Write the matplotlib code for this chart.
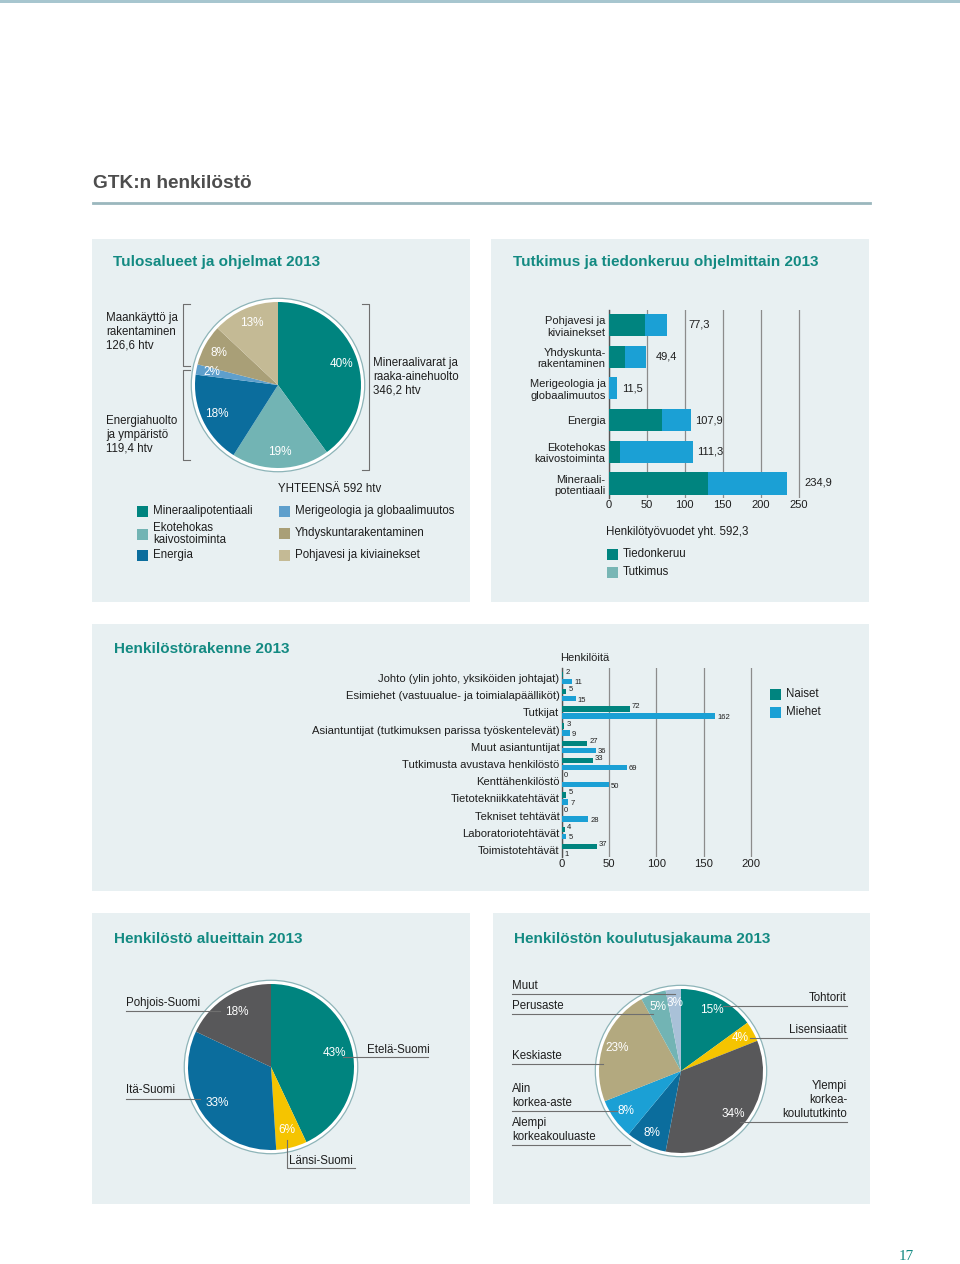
import matplotlib.pyplot as plt
from matplotlib.patches import Rectangle, Circle

plt.rcParams['font.family'] = ['Liberation Sans', 'DejaVu Sans']

W, H = 960, 1264

# Tulosalueet ja ohjelmat 2013 (% of htv)
prog_names = ['Mineraalipotentiaali', 'Ekotehokas\nkaivostoiminta', 'Energia',
              'Merigeologia ja globaalimuutos', 'Yhdyskuntarakentaminen',
              'Pohjavesi ja kiviainekset']
prog_pct = [40, 19, 18, 2, 8, 13]
prog_colors = ['#00847f', '#72b4b4', '#0b6d9d', '#5e9fcc', '#a99f77', '#c4ba95']

# Tutkimus ja tiedonkeruu ohjelmittain 2013 (htv)
bar_names = ['Pohjavesi ja\nkiviainekset', 'Yhdyskunta-\nrakentaminen',
             'Merigeologia ja\nglobaalimuutos', 'Energia',
             'Ekotehokas\nkaivostoiminta', 'Mineraali-\npotentiaali']
tiedonkeruu = [48.5, 21.0, 0.0, 70.5, 14.5, 131.0]
tutkimus = [28.8, 28.4, 11.5, 37.4, 96.8, 103.9]
bar_ticks = [0, 50, 100, 150, 200, 250]

# Henkilöstörakenne 2013
roles = ['Johto (ylin johto, yksiköiden johtajat)',
         'Esimiehet (vastuualue- ja toimialapäälliköt)',
         'Tutkijat',
         'Asiantuntijat (tutkimuksen parissa työskentelevät)',
         'Muut asiantuntijat',
         'Tutkimusta avustava henkilöstö',
         'Kenttähenkilöstö',
         'Tietotekniikkatehtävät',
         'Tekniset tehtävät',
         'Laboratoriotehtävät',
         'Toimistotehtävät']
naiset = [2, 5, 72, 3, 27, 33, 0, 5, 0, 4, 37]
miehet = [11, 15, 162, 9, 36, 69, 50, 7, 28, 5, 1]
role_ticks = [0, 50, 100, 150, 200]

# Henkilöstö alueittain 2013
regions = ['Etelä-Suomi', 'Länsi-Suomi', 'Itä-Suomi', 'Pohjois-Suomi']
region_pct = [43, 6, 33, 18]
region_colors = ['#00847f', '#f5c400', '#0b6d9d', '#58585a']

# Henkilöstön koulutusjakauma 2013
edu = ['Tohtorit', 'Lisensiaatit', 'Ylempi\nkorkea-\nkoulututkinto',
       'Alempi\nkorkeakouluaste', 'Alin\nkorkea-aste', 'Keskiaste',
       'Perusaste', 'Muut']
edu_pct = [15, 4, 34, 8, 8, 23, 5, 3]
edu_colors = ['#00847f', '#f5c400', '#58585a', '#0b6d9d', '#1ba0d5',
              '#b3a97f', '#72b4b4', '#a9c1d8']

TEAL = '#00847f'
BLUE = '#1ba0d5'
TITLE = '#138a82'
TXT = '#1e1e1e'
PANEL = '#e8f0f2'
LINE = '#6f6f6f'

fig = plt.figure(figsize=(9.6, 12.64), dpi=100)


def px_axes(x0, y0, x1, y1, **kw):
    return fig.add_axes([x0 / W, 1 - y1 / H, (x1 - x0) / W, (y1 - y0) / H], **kw)


bg = px_axes(0, 0, W, H)
bg.set_xlim(0, W)
bg.set_ylim(H, 0)
bg.axis('off')

top = px_axes(0, 0, W, H, zorder=10)
top.set_xlim(0, W)
top.set_ylim(H, 0)
top.axis('off')
top.patch.set_alpha(0)

# page frame
bg.add_patch(Rectangle((0, 0), W, 3, color='#a7c6cf', lw=0))
bg.text(93, 183, 'GTK:n henkilöstö', fontsize=13.7, fontweight='bold',
        color='#4d4d4d', va='center')
bg.plot([93, 870], [203, 203], color='#9ab7bd', lw=2)
bg.text(906, 1257, '17', fontsize=11, color=TITLE, family='Liberation Serif',
        ha='center', va='center')

panels = [(92, 239, 470, 602), (491, 239, 869, 602), (92, 624, 869, 891),
          (92, 913, 470, 1204), (493, 913, 870, 1204)]
for x0, y0, x1, y1 in panels:
    bg.add_patch(Rectangle((x0, y0), x1 - x0, y1 - y0, color=PANEL, lw=0))

titles = [(113, 262, 'Tulosalueet ja ohjelmat 2013'),
          (513, 262, 'Tutkimus ja tiedonkeruu ohjelmittain 2013'),
          (114, 649, 'Henkilöstörakenne 2013'),
          (114, 939, 'Henkilöstö alueittain 2013'),
          (514, 939, 'Henkilöstön koulutusjakauma 2013')]
for x, y, s in titles:
    bg.text(x, y, s, fontsize=11, fontweight='bold', color=TITLE, va='center')


def pie_at(cx, cy, r, vals, cols, pctd):
    half = r + 9
    ax = px_axes(cx - half, cy - half, cx + half, cy + half)
    ax.pie(vals, colors=cols, startangle=90, counterclock=False,
           autopct=lambda p: '%d%%' % round(p), pctdistance=pctd,
           wedgeprops=dict(linewidth=0),
           textprops=dict(color='white', fontsize=8.5))
    ax.add_patch(Circle((0, 0), 1.045, fc='white', ec='#8db4b8', lw=0.9, zorder=0))
    lim = half / r
    ax.set_xlim(-lim, lim)
    ax.set_ylim(-lim, lim)
    return ax


# ---- panel 1: pie of programmes
pie_at(278, 385, 83, prog_pct, prog_colors, 0.81)

# brackets
top.plot([190, 183, 183, 190], [304, 304, 366, 366], color=LINE, lw=0.8)
top.plot([190, 183, 183, 190], [370, 370, 460, 460], color=LINE, lw=0.8)
top.plot([362, 369, 369, 362], [304, 304, 470, 470], color=LINE, lw=0.8)
top.text(106, 332, 'Maankäyttö ja\nrakentaminen\n126,6 htv', fontsize=8.3,
         color=TXT, va='center')
top.text(106, 435, 'Energiahuolto\nja ympäristö\n119,4 htv', fontsize=8.3,
         color=TXT, va='center')
top.text(373, 377, 'Mineraalivarat ja\nraaka-ainehuolto\n346,2 htv', fontsize=8.3,
         color=TXT, va='center')
top.text(278, 489, 'YHTEENSÄ 592 htv', fontsize=8.3, color=TXT, va='center')

leg1 = [(137, 511), (137, 534), (137, 555), (279, 511), (279, 533), (279, 555)]
for (x, y), name, c in zip(leg1, prog_names, prog_colors):
    bg.add_patch(Rectangle((x, y - 5.5), 11, 11, color=c, lw=0))
    bg.text(x + 16, y, name, fontsize=8.3, color=TXT, va='center', linespacing=1.0)

# ---- panel 2: stacked bars
px2 = 0.762
ax2 = px_axes(608.5, 310, 608.5 + 252 * px2, 498)
ypos = list(range(len(bar_names)))
ax2.barh(ypos, tiedonkeruu, height=0.7, color=TEAL, lw=0, zorder=3)
ax2.barh(ypos, tutkimus, left=tiedonkeruu, height=0.7, color=BLUE, lw=0, zorder=3)
lab_dx = [21, 10, 5, 4, 4, 17]
lab_dy = [0, 0, 0, 0, 0, -1]
for i in ypos:
    tot = tiedonkeruu[i] + tutkimus[i]
    ax2.annotate(('%.1f' % tot).replace('.', ','), (tot, i),
                 xytext=(lab_dx[i] * 0.72, -lab_dy[i] * 0.72),
                 textcoords='offset points', fontsize=8, color=TXT,
                 va='center', ha='left', annotation_clip=False)
ax2.set_xlim(0, 252)
ax2.set_ylim(5.457, -0.473)
ax2.set_xticks(bar_ticks)
ax2.set_yticks(ypos)
ax2.set_yticklabels(bar_names)
ax2.tick_params(length=0, labelsize=8, colors=TXT, pad=2)
ax2.tick_params(axis='x', pad=1.5)
ax2.xaxis.grid(True, color='#8c8c8c', lw=0.9)
ax2.set_axisbelow(True)
ax2.patch.set_alpha(0)
for s in ['top', 'right', 'bottom']:
    ax2.spines[s].set_visible(False)
ax2.spines['left'].set_color('#555555')
ax2.spines['left'].set_linewidth(1)

top.text(606, 532, 'Henkilötyövuodet yht. 592,3', fontsize=8.3, color=TXT, va='center')
for y, name, c in [(554, 'Tiedonkeruu', TEAL), (572, 'Tutkimus', '#78b6b5')]:
    bg.add_patch(Rectangle((607, y - 5.5), 11, 11, color=c, lw=0))
    bg.text(623, y, name, fontsize=8.3, color=TXT, va='center')

# ---- panel 3: personnel structure
px3 = 0.9475
row = 17.2
ax3 = px_axes(561.5, 668, 561.5 + 202 * px3, 857)
rpos = list(range(len(roles)))
off = 3.5 / row
bh = 5.5 / row
ax3.barh([r - off for r in rpos], naiset, height=bh, color=TEAL, lw=0, zorder=3)
ax3.barh([r + off for r in rpos], miehet, height=bh, color=BLUE, lw=0, zorder=3)
for r in rpos:
    ax3.annotate(str(naiset[r]), (naiset[r], r - off), xytext=(1.5, 1.5),
                 textcoords='offset points', fontsize=5.5, color=TXT,
                 va='center', ha='left')
    ax3.annotate(str(miehet[r]), (miehet[r], r + off), xytext=(1.5, -1),
                 textcoords='offset points', fontsize=5.5, color=TXT,
                 va='center', ha='left')
ax3.set_xlim(0, 202)
ax3.set_ylim(10.407, -0.581)
ax3.set_xticks(role_ticks)
ax3.set_yticks(rpos)
ax3.set_yticklabels(roles)
ax3.tick_params(length=0, labelsize=8.1, colors=TXT, pad=1.5)
ax3.xaxis.grid(True, color='#8c8c8c', lw=0.9)
ax3.set_axisbelow(True)
ax3.patch.set_alpha(0)
for s in ['top', 'right', 'bottom']:
    ax3.spines[s].set_visible(False)
ax3.spines['left'].set_color('#555555')
ax3.spines['left'].set_linewidth(1)
top.text(560, 658, 'Henkilöitä', fontsize=8, color=TXT, va='center')
for y, name, c in [(694, 'Naiset', TEAL), (712, 'Miehet', BLUE)]:
    bg.add_patch(Rectangle((770, y - 5.5), 11, 11, color=c, lw=0))
    bg.text(786, y, name, fontsize=8.3, color=TXT, va='center')

# ---- panel 4: regions
pie_at(271, 1067, 83, region_pct, region_colors, 0.78)
reg_lab = {
    'Etelä-Suomi': ((367, 1050, 'left'), [(343, 428)], 1057),
    'Pohjois-Suomi': ((126, 1003, 'left'), [(126, 220)], 1011),
    'Itä-Suomi': ((126, 1090, 'left'), [(126, 200)], 1099),
}
for name, ((tx, ty, ha), segs, ly) in reg_lab.items():
    top.text(tx, ty, name, fontsize=8.3, color=TXT, va='center', ha=ha)
    for x0, x1 in segs:
        top.plot([x0, x1], [ly, ly], color=LINE, lw=0.8)
top.plot([287, 287, 355], [1140, 1168, 1168], color=LINE, lw=0.8)
top.text(289, 1161, regions[1], fontsize=8.3, color=TXT, va='center')

# ---- panel 5: education
pie_at(681, 1071, 82, edu_pct, edu_colors, 0.83)
left_lab = [(7, 994, 675), (6, 1014, 653), (5, 1064, 603), (4, 1111, 617), (3, 1145, 630)]
for i, ly, x1 in left_lab:
    top.plot([512, x1], [ly, ly], color=LINE, lw=0.8)
    top.text(512, ly - 2, edu[i], fontsize=8.3, color=TXT, va='bottom', ha='left')
right_lab = [(0, 1006, 723), (1, 1038, 750), (2, 1122, 740)]
for i, ly, x0 in right_lab:
    top.plot([x0, 847], [ly, ly], color=LINE, lw=0.8)
    top.text(847, ly - 2, edu[i], fontsize=8.3, color=TXT, va='bottom', ha='right')

fig.savefig('out.png', dpi=100)
